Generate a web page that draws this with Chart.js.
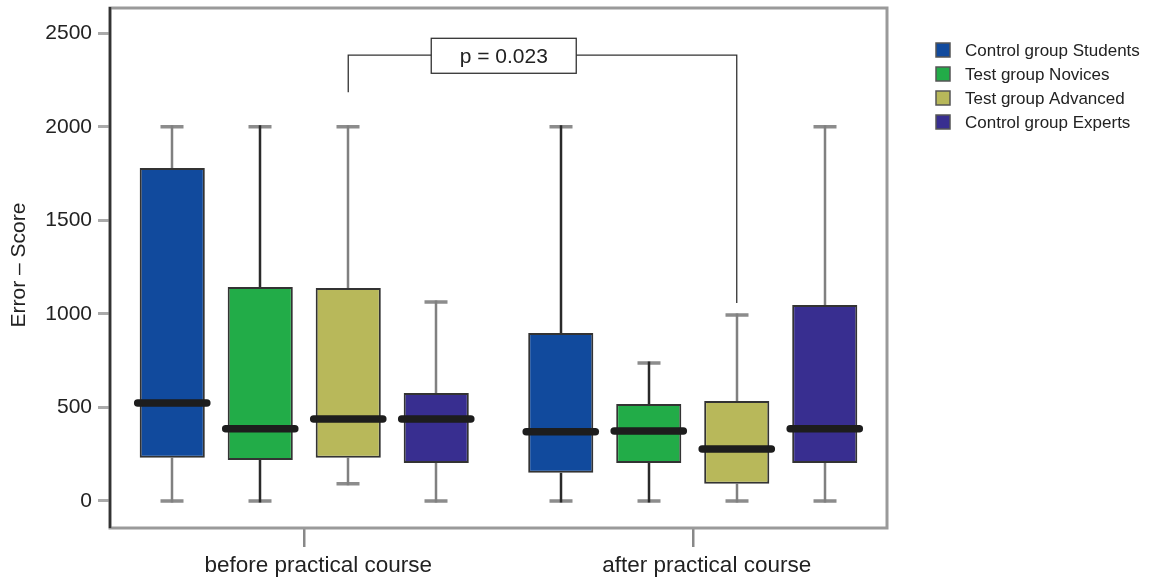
<!DOCTYPE html>
<html><head><meta charset="utf-8">
<script src="https://cdn.jsdelivr.net/npm/chart.js@4.4.1/dist/chart.umd.min.js"></script>
<style>html,body{margin:0;padding:0;background:#fff}#wrap{width:1157px;height:578px;position:relative}</style>
</head><body><div id="wrap"><canvas id="c" width="1157" height="578"></canvas></div>
<script>
// ---- data ----
const categories = ['before practical course', 'after practical course'];
const groupNames = ['Control group Students', 'Test group Novices', 'Test group Advanced', 'Control group Experts'];
// each row = one group, columns = [before, after]
const whiskerLow  = [[0, 0],     [0, 0],     [91, 0],    [0, 0]];
const q1Values    = [[230, 150], [219, 203], [230, 91],  [203, 203]];
const medianValues= [[523, 369], [385, 374], [438, 278], [438, 385]];
const q3Values    = [[1779, 897],[1143, 518],[1138, 534],[577, 1047]];
const whiskerHigh = [[2000, 2000],[2000, 737],[2000, 994],[1063, 2000]];
const yTicks = [0, 500, 1000, 1500, 2000, 2500];
const yTitle = 'Error – Score';
const pLabel = 'p = 0.023';
const bracketTop = 2383, bracketLeftEnd = 2185, bracketRightEnd = 1058;
const pBoxTop = 2473, pBoxBottom = 2286;

// ---- styles ----
const groupColors = ['#114A9D', '#22AC48', '#B8B85A', '#382E90'];
const whiskerStemColors = [['#808080', '#2a2a2a'], ['#2a2a2a', '#2a2a2a'], ['#808080', '#808080'], ['#808080', '#808080']];
const FONT = '"Liberation Sans", Arial, Helvetica, sans-serif';

const boxPlugin = {
  id: 'boxplot',
  beforeDatasetsDraw(chart) {
    const ctx = chart.ctx, y = chart.scales.y;
    ctx.save();
    chart.data.datasets.forEach((ds, i) => {
      const meta = chart.getDatasetMeta(i);
      meta.data.forEach((el, j) => {
        const x = Math.round(el.x);
        const yl = y.getPixelForValue(whiskerLow[i][j]);
        const yh = y.getPixelForValue(whiskerHigh[i][j]);
        const y1 = y.getPixelForValue(q1Values[i][j]);
        const y3 = y.getPixelForValue(q3Values[i][j]);
        ctx.lineWidth = 3.5;
        ctx.strokeStyle = '#8c8c8c';
        ctx.beginPath();
        ctx.moveTo(x - 11.5, yh); ctx.lineTo(x + 11.5, yh);
        ctx.moveTo(x - 11.5, yl); ctx.lineTo(x + 11.5, yl);
        ctx.stroke();
        ctx.strokeStyle = whiskerStemColors[i][j];
        ctx.lineWidth = 2.5;
        ctx.beginPath();
        ctx.moveTo(x, yh - 1.5); ctx.lineTo(x, y3);
        ctx.moveTo(x, y1); ctx.lineTo(x, yl + 1.5);
        ctx.stroke();
      });
    });
    ctx.restore();
  },
  afterDatasetsDraw(chart) {
    const ctx = chart.ctx, y = chart.scales.y, a = chart.chartArea;
    ctx.save();
    // medians
    chart.data.datasets.forEach((ds, i) => {
      const meta = chart.getDatasetMeta(i);
      meta.data.forEach((el, j) => {
        const ym = y.getPixelForValue(medianValues[i][j]);
        ctx.strokeStyle = '#1d1d1d';
        ctx.lineWidth = 7.5;
        ctx.lineCap = 'round';
        ctx.beginPath();
        ctx.moveTo(el.x - el.width / 2 - 2, ym);
        ctx.lineTo(el.x + el.width / 2 + 2, ym);
        ctx.stroke();
      });
    });
    ctx.lineCap = 'butt';
    // frame
    ctx.strokeStyle = '#9a9a9a';
    ctx.lineWidth = 3;
    ctx.strokeRect(a.left, a.top, a.right - a.left, a.bottom - a.top);
    ctx.strokeStyle = '#333';
    ctx.lineWidth = 2.5;
    ctx.beginPath(); ctx.moveTo(a.left, a.top - 1); ctx.lineTo(a.left, a.bottom); ctx.stroke();
    // y title
    ctx.fillStyle = '#222';
    ctx.font = '21px ' + FONT;
    ctx.textAlign = 'center';
    ctx.textBaseline = 'middle';
    ctx.save();
    ctx.translate(19, 265);
    ctx.rotate(-Math.PI / 2);
    ctx.fillText(yTitle, 0, 0);
    ctx.restore();
    // significance bracket
    const lx = chart.getDatasetMeta(2).data[0].x;
    const rx = chart.getDatasetMeta(2).data[1].x;
    const by = y.getPixelForValue(bracketTop);
    const bx0 = lx + 83, bx1 = bx0 + 145;
    ctx.strokeStyle = '#333';
    ctx.lineWidth = 1.3;
    ctx.beginPath();
    ctx.moveTo(lx, y.getPixelForValue(bracketLeftEnd)); ctx.lineTo(lx, by); ctx.lineTo(bx0, by);
    ctx.moveTo(bx1, by); ctx.lineTo(rx, by); ctx.lineTo(rx, y.getPixelForValue(bracketRightEnd));
    ctx.stroke();
    const t = y.getPixelForValue(pBoxTop), b = y.getPixelForValue(pBoxBottom);
    ctx.strokeRect(bx0, t, bx1 - bx0, b - t);
    ctx.fillStyle = '#222';
    ctx.font = '21px ' + FONT;
    ctx.textAlign = 'center';
    ctx.textBaseline = 'middle';
    ctx.fillText(pLabel, (bx0 + bx1) / 2, (t + b) / 2 + 1);
    // legend
    ctx.font = '17px ' + FONT;
    ctx.textAlign = 'left';
    groupNames.forEach((n, i) => {
      const cy = 50 + i * 24;
      ctx.fillStyle = groupColors[i];
      ctx.fillRect(936, cy - 7, 14, 14);
      ctx.strokeStyle = '#555';
      ctx.lineWidth = 1.5;
      ctx.strokeRect(936, cy - 7, 14, 14);
      ctx.fillStyle = '#222';
      ctx.fillText(n, 965, cy + 1);
    });
    ctx.restore();
  }
};

new Chart(document.getElementById('c'), {
  type: 'bar',
  data: {
    labels: categories,
    datasets: groupNames.map((n, i) => ({
      label: n,
      data: q1Values[i].map((v, j) => [v, q3Values[i][j]]),
      backgroundColor: groupColors[i],
      borderColor: '#333',
      borderWidth: 2,
      borderSkipped: false,
      categoryPercentage: 0.906,
      barPercentage: 0.74
    }))
  },
  options: {
    responsive: false,
    devicePixelRatio: 1,
    animation: false,
    layout: { padding: { top: 8, right: 270, left: 0, bottom: 0 } },
    plugins: { legend: { display: false }, tooltip: { enabled: false } },
    scales: {
      x: {
        offset: true,
        grid: { offset: false, drawOnChartArea: false, drawTicks: true, tickLength: 19, color: '#888', lineWidth: 2.5 },
        border: { display: false },
        ticks: { font: { size: 22.5, family: FONT }, color: '#222', padding: 5, labelOffset: 14 },
        afterFit(s) { s.height = 50; s.paddingLeft = 0; s.paddingRight = 0; }
      },
      y: {
        min: -145, max: 2635,
        afterBuildTicks(s) { s.ticks = yTicks.map(v => ({ value: v })); },
        grid: { drawOnChartArea: false, drawTicks: true, tickLength: 12, color: '#aaa', lineWidth: 3 },
        border: { display: false },
        ticks: { font: { size: 21, family: FONT }, color: '#222', padding: 6, callback: (v) => String(v) },
        afterFit(s) { s.width = 110; s.paddingTop = 0; s.paddingBottom = 0; }
      }
    }
  },
  plugins: [boxPlugin]
});
</script>
</body></html>
